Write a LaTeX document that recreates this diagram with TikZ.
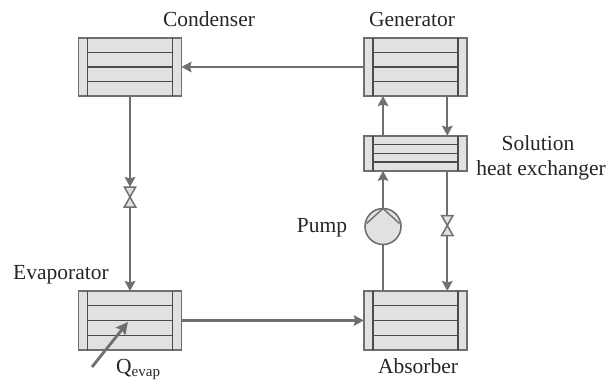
\documentclass[tikz,border=0pt]{standalone}
\usepackage{fontspec}
\setmainfont{Liberation Serif}
\usetikzlibrary{arrows.meta,calc}
\definecolor{pipe}{HTML}{6E6F71}
\definecolor{fillg}{HTML}{E0E1E3}
\definecolor{darkl}{HTML}{4A4B4D}
\tikzset{
  x=1pt,y=-1pt,
  hxbox/.style={draw=pipe,fill=fillg,line width=1.6pt,minimum width=103pt,inner sep=0pt,outer sep=0pt},
  pipeline/.style={draw=pipe,line width=2.2pt},
  flow/.style={pipeline,-{Stealth[length=10pt,width=10.5pt,inset=1.5pt]}},
  inner/.style={draw=darkl,line width=1.4pt},
  lbl/.style={font=\fontsize{21.5}{26}\selectfont,text=black!85,inner sep=0pt},
  valvepart/.style={draw=pipe,fill=fillg,line width=1.5pt},
}
\newcommand{\hxunit}[4]{%
  \node[hxbox,minimum height=#4 pt] (#1) at (#2,#3) {};
  \draw[inner] ($(#1.north west)+(9,0)$) -- ($(#1.south west)+(9,0)$);
  \draw[inner] ($(#1.north east)+(-9,0)$) -- ($(#1.south east)+(-9,0)$);
  \foreach \f in {0.25,0.5,0.75}{
    \draw[inner] ($(#1.north west)!\f!(#1.south west)+(9,0)$) -- ($(#1.north east)!\f!(#1.south east)+(-9,0)$);
  }
}
\begin{document}
\begin{tikzpicture}
\useasboundingbox (0,0) rectangle (610,380);

\node[inner sep=0pt,minimum size=0pt] (leftvalve) at (130,197) {};
\node[inner sep=0pt,minimum size=0pt] (rightvalve) at (447.3,225.5) {};
\node[draw=pipe,fill=fillg,line width=1.6pt,circle,minimum size=36pt,inner sep=0pt,outer sep=0pt] (pump) at (383,226.5) {};

\hxunit{condenser}{130}{67}{58}
\hxunit{generator}{415.3}{67}{58}
\hxunit{shx}{415.3}{153.3}{35}
\hxunit{absorber}{415.3}{320.5}{59}
\hxunit{evaporator}{130}{320.5}{59}

% pump impeller
\draw[pipe,line width=1.4pt] ($(pump.center)+(-16.5,-3)$) -- (pump.north) -- ($(pump.center)+(16.5,-3)$);

% flows
\draw[flow] (generator.west) -- (condenser.east);
\draw[flow] (condenser.south) -- ($(leftvalve.center)+(0,-10)$);
\draw[flow] ($(leftvalve.center)+(0,10)$) -- (evaporator.north);
\draw[flow] (evaporator.east) -- (absorber.west);
\draw[pipeline] (pump.south) -- (pump.south |- absorber.north);
\draw[flow] (pump.north) -- (pump.north |- shx.south);
\draw[flow] (pump.north |- shx.north) -- (pump.north |- generator.south);
\draw[flow] (rightvalve.center |- generator.south) -- (rightvalve.center |- shx.north);
\draw[pipeline] (rightvalve.center |- shx.south) -- ($(rightvalve.center)+(0,-10)$);
\draw[flow] ($(rightvalve.center)+(0,10)$) -- (rightvalve.center |- absorber.north);

% valves
\foreach \v in {leftvalve,rightvalve}{
  \draw[valvepart] (\v.center) -- ($(\v.center)+(-5.7,-10)$) -- ($(\v.center)+(5.7,-10)$) -- cycle;
  \draw[valvepart] (\v.center) -- ($(\v.center)+(-5.7,10)$) -- ($(\v.center)+(5.7,10)$) -- cycle;
}

% Q arrow
\coordinate (qtail) at (92,367);
\coordinate (qhead) at (128,322);
\draw[draw=pipe,line width=2.8pt,-{Stealth[length=12pt,width=12pt,inset=2pt]}] (qtail) -- (qhead);

% labels
\node[lbl,anchor=base] (tc) at (209,27) {Condenser};
\node[lbl,anchor=base] (tg) at (412,27) {Generator};
\node[lbl,anchor=base] (ts1) at (538,150) {Solution};
\node[lbl,anchor=base] (ts2) at (541,175) {heat exchanger};
\node[lbl,anchor=base] (tp) at (322,232) {Pump};
\node[lbl,anchor=base] (te) at (61,279) {Evaporator};
\node[lbl,anchor=base] (ta) at (418,373) {Absorber};
\node[lbl,anchor=base west] (tq) at (116,373) {Q\textsubscript{evap}};
\end{tikzpicture}
\end{document}
